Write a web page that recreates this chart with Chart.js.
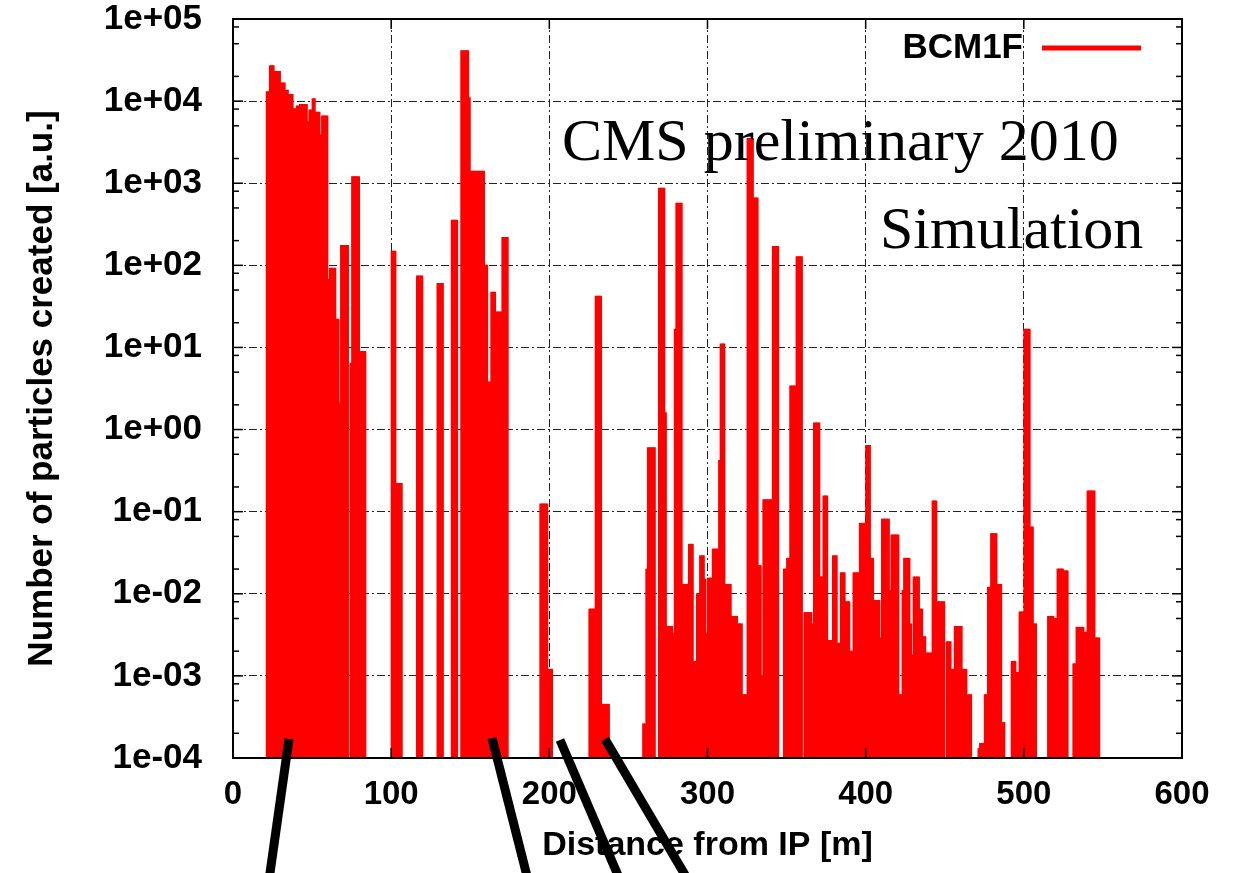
<!DOCTYPE html>
<html>
<head>
<meta charset="utf-8">
<title>BCM1F - particles created vs distance from IP</title>
<script src="https://cdn.jsdelivr.net/npm/chart.js@4.4.1/dist/chart.umd.min.js"></script>
<style>
  html, body { margin: 0; padding: 0; background: #ffffff; }
  #wrap { position: relative; width: 1244px; height: 873px; }
</style>
</head>
<body>
<div id="wrap"><canvas id="chart"></canvas></div>
<script>
// histogram: 1 m bins, the first bin starts at 20 m
const seriesLabel = "BCM1F";
const firstBin = 20;
const binWidth = 1;
const counts = [
  /* 20 */ null, 1.3e4, 1.3e4, 2.7e4, 2.7e4, 2.7e4, 2.3e4, 2.3e4, 2.3e4, 2.3e4,
  /* 30 */ 1.66e4, 1.66e4, 1.66e4, 1.36e4, 1.36e4, 1.2e4, 1.2e4, 1.2e4, 8.1e3, 8.1e3,
  /* 40 */ 8.7e3, 8.7e3, 9.1e3, 9.1e3, 9.1e3, 9.1e3, 9.1e3, 5.6e3, 7.8e3, 7.8e3,
  /* 50 */ 1.07e4, 1.07e4, 7.3e3, 7.3e3, 7.3e3, 3.9e3, 6.6e3, 6.6e3, 6.6e3, 6.6e3,
  /* 60 */ 67, 92, 92, 92, 92, 22, 22, 2.1, 174, 174,
  /* 70 */ 174, 174, 174, null, 6.4, 1200, 1200, 1200, 1200, 1200,
  /* 80 */ 8.9, 8.9, 8.9, 8.9, null, null, null, null, null, null,
  /* 90 */ null, null, null, null, null, null, null, null, null, null,
  /* 100 */ 148, 148, 148, 0.22, 0.22, 0.22, 0.22, null, null, null,
  /* 110 */ null, null, null, null, null, null, 74, 74, 74, 74,
  /* 120 */ null, null, null, null, null, null, null, null, null, 60,
  /* 130 */ 60, 60, 60, null, null, null, null, null, 355, 355,
  /* 140 */ 355, 355, null, null, 4.1e4, 4.1e4, 4.1e4, 4.1e4, 4.1e4, 1.1e4,
  /* 150 */ 1.4e3, 1.4e3, 1.4e3, 1.4e3, 1.4e3, 1.4e3, 1.4e3, 1.4e3, 1.4e3, 100,
  /* 160 */ 100, 3.8, 3.8, 47, 47, 47, 27, 27, 27, 27,
  /* 170 */ 218, 218, 218, 218, null, null, null, null, null, null,
  /* 180 */ null, null, null, null, null, null, null, null, null, null,
  /* 190 */ null, null, null, null, 0.124, 0.124, 0.124, 0.124, 0.124, 1.2e-3,
  /* 200 */ 1.2e-3, 1.2e-3, null, null, null, null, null, null, null, null,
  /* 210 */ null, null, null, null, null, null, null, null, null, null,
  /* 220 */ null, null, null, null, null, 6.5e-3, 6.5e-3, 6.5e-3, 6.5e-3, 42,
  /* 230 */ 42, 42, 42, 4.5e-4, 4.5e-4, 4.5e-4, 4.5e-4, 4.5e-4, null, null,
  /* 240 */ null, null, null, null, null, null, null, null, null, null,
  /* 250 */ null, null, null, null, null, null, null, null, null, 2.6e-4,
  /* 260 */ 2.6e-4, 0.02, 0.6, 0.6, 0.6, 0.6, 0.6, null, null, 870,
  /* 270 */ 870, 870, 870, 1.6, 4e-3, 4e-3, 4e-3, 4e-3, 3.3e-3, 16.6,
  /* 280 */ 570, 570, 570, 570, 0.013, 0.013, 0.013, 0.013, 0.04, 0.04,
  /* 290 */ 0.04, 1.5e-3, 1.5e-3, 0.01, 0.01, 0.029, 0.029, 0.029, 0.015, 3.3e-3,
  /* 300 */ 0.0155, 0.0155, 0.0155, 0.035, 0.035, 0.035, 0.035, 0.42, 11, 11,
  /* 310 */ 11, 0.013, 0.013, 0.013, 0.013, 5.3e-3, 5.3e-3, 5.3e-3, 5.3e-3, 4.3e-3,
  /* 320 */ 4.3e-3, 4.3e-3, 5.9e-4, 5.9e-4, 5.9e-4, 3.5e3, 3.5e3, 3.5e3, 3.5e3, 660,
  /* 330 */ 660, 660, 0.022, 0.022, 1e-3, 0.14, 0.14, 0.14, 0.14, 0.14,
  /* 340 */ 0.14, 170, 170, 170, 170, null, null, null, 0.02, 0.02,
  /* 350 */ 0.027, 0.027, 3.4, 3.4, 3.4, 3.4, 127, 127, 127, 127,
  /* 360 */ null, 5.9e-3, 5.9e-3, 5.9e-3, 5.9e-3, 5.9e-3, 4.3e-3, 1.2, 1.2, 1.2,
  /* 370 */ 1.2, 0.016, 0.016, 0.155, 0.155, 0.155, 2.7e-3, 2.7e-3, 2.7e-3, 0.029,
  /* 380 */ 0.029, 0.029, 2.5e-3, 2.5e-3, 0.018, 0.018, 0.018, 8e-3, 8e-3, 8e-3,
  /* 390 */ 2e-3, 2e-3, 0.018, 0.018, 0.018, 0.018, 0.072, 0.072, 0.072, 0.072,
  /* 400 */ 0.64, 0.64, 0.64, 0.027, 0.027, 8.3e-3, 8.3e-3, 8.3e-3, 8.3e-3, 2.9e-3,
  /* 410 */ 0.081, 0.081, 0.081, 0.081, 0.081, 0.011, 0.052, 0.052, 0.052, 0.052,
  /* 420 */ 0.052, 5.9e-4, 5.9e-4, 0.011, 0.027, 0.027, 0.027, 0.027, 4.3e-3, 1.8e-3,
  /* 430 */ 0.016, 0.016, 0.016, 0.016, 6.5e-3, 6.5e-3, 3e-3, 3e-3, 1.9e-3, 1.9e-3,
  /* 440 */ 1.9e-3, 1.9e-3, 0.135, 0.135, 0.135, 8e-3, 8e-3, 8e-3, 8e-3, 8e-3,
  /* 450 */ null, 2.6e-3, 2.6e-3, 2.6e-3, 1.2e-3, 1.2e-3, 4e-3, 4e-3, 4e-3, 4e-3,
  /* 460 */ 4e-3, 1.2e-3, 1.2e-3, 1.2e-3, 5.9e-4, 5.9e-4, 5.9e-4, null, null, null,
  /* 470 */ null, 1.3e-4, 1.5e-4, 1.5e-4, 1.5e-4, 5.9e-4, 5.9e-4, 0.012, 0.012, 0.054,
  /* 480 */ 0.054, 0.054, 0.054, 0.013, 0.013, 0.013, 2.7e-4, 2.7e-4, null, null,
  /* 490 */ null, null, 1.5e-3, 1.5e-3, 1.5e-3, 1.1e-3, 1.1e-3, 6e-3, 6e-3, 6e-3,
  /* 500 */ 16.6, 16.6, 16.6, 16.6, 0.065, 0.065, 4.3e-3, 4.3e-3, null, null,
  /* 510 */ null, null, null, null, null, 5.3e-3, 5.3e-3, 5.3e-3, 5.3e-3, 5e-3,
  /* 520 */ 5e-3, 0.02, 0.02, 0.02, 0.02, 0.019, 0.019, 0.019, null, null,
  /* 530 */ null, 1.4e-3, 1.4e-3, 3.9e-3, 3.9e-3, 3.9e-3, 3.9e-3, 3.9e-3, 3.4e-3, 3.4e-3,
  /* 540 */ 0.178, 0.178, 0.178, 0.178, 0.178, 2.9e-3, 2.9e-3, 2.9e-3
];

const xTickValues = [0, 100, 200, 300, 400, 500, 600];
const yTickValues = [1e-4, 1e-3, 1e-2, 1e-1, 1e0, 1e1, 1e2, 1e3, 1e4, 1e5];
const yTickLabels = ["1e-04", "1e-03", "1e-02", "1e-01", "1e+00", "1e+01", "1e+02", "1e+03", "1e+04", "1e+05"];
const yMinorSteps = [2, 5, 8];
const notes = ["CMS preliminary 2010", "Simulation"];

const sansFont = "'Liberation Sans', Arial, Helvetica, sans-serif";
const serifFont = "'Liberation Serif', 'Times New Roman', serif";
const gridColor = "#222222";
const gridDash = [8, 3, 2, 3];

// gnuplot style frame with inward ticks on all four sides
const frameTicks = {
  id: "frameTicks",
  afterDatasetsDraw(chart) {
    const { ctx, chartArea: a, scales: { x, y } } = chart;
    const line = (x1, y1, x2, y2) => {
      ctx.beginPath();
      ctx.moveTo(x1, y1);
      ctx.lineTo(x2, y2);
      ctx.stroke();
    };
    ctx.save();
    ctx.strokeStyle = "#000";
    ctx.lineWidth = 1.5;
    yTickValues.forEach(function (v) {
      const p = y.getPixelForValue(v);
      line(a.left, p, a.left + 10, p);
      line(a.right - 10, p, a.right, p);
    });
    yTickValues.slice(0, -1).forEach(function (v) {
      yMinorSteps.forEach(function (m) {
        const p = y.getPixelForValue(v * m);
        line(a.left, p, a.left + 6, p);
        line(a.right - 6, p, a.right, p);
      });
    });
    xTickValues.forEach(function (v) {
      const p = x.getPixelForValue(v);
      line(p, a.bottom, p, a.bottom - 10);
      line(p, a.top, p, a.top + 10);
    });
    ctx.lineWidth = 2;
    ctx.strokeRect(a.left, a.top, a.right - a.left, a.bottom - a.top);
    ctx.restore();
  }
};

// key, the two text notes, and the black pointer lines laid over the figure
const overlay = {
  id: "overlay",
  afterDraw(chart) {
    const { ctx, chartArea: a } = chart;
    const ds = chart.data.datasets[0];
    ctx.save();

    ctx.fillStyle = "#000";
    ctx.font = "bold 35px " + sansFont;
    ctx.textAlign = "right";
    ctx.textBaseline = "middle";
    ctx.fillText(ds.label, a.right - 159, a.top + 29);
    ctx.strokeStyle = ds.backgroundColor;
    ctx.lineWidth = 5;
    ctx.beginPath();
    ctx.moveTo(a.right - 140, a.top + 29);
    ctx.lineTo(a.right - 41, a.top + 29);
    ctx.stroke();

    ctx.font = "60px " + serifFont;
    ctx.textAlign = "left";
    ctx.textBaseline = "alphabetic";
    ctx.fillText(notes[0], a.left + 329, a.top + 141);
    ctx.fillText(notes[1], a.left + 647, a.top + 229);

    const pointerLines = [
      [289, 739, 269, 880],
      [492, 738, 528, 880],
      [560, 740, 620, 880],
      [605, 739, 688, 880]
    ];
    ctx.strokeStyle = "#000";
    ctx.lineWidth = 9;
    ctx.lineCap = "butt";
    pointerLines.forEach(function (p) {
      ctx.beginPath();
      ctx.moveTo(p[0], p[1]);
      ctx.lineTo(p[2], p[3]);
      ctx.stroke();
    });
    ctx.restore();
  }
};

const points = counts.map(function (v, i) {
  return { x: firstBin + (i + 0.5) * binWidth, y: v };
});

new Chart(document.getElementById("chart"), {
  type: "bar",
  data: {
    datasets: [{
      label: seriesLabel,
      data: points,
      backgroundColor: "#ff0000",
      borderWidth: 0,
      inflateAmount: 0.5,
      barPercentage: 1,
      categoryPercentage: 1
    }]
  },
  options: {
    responsive: true,
    maintainAspectRatio: false,
    animation: false,
    layout: { padding: { top: 19, right: 62, left: 0, bottom: 0 } },
    plugins: {
      legend: { display: false },
      tooltip: { enabled: false }
    },
    scales: {
      x: {
        type: "linear",
        min: 0,
        max: 600,
        offset: false,
        afterBuildTicks: function (axis) {
          axis.ticks = xTickValues.map(function (v) { return { value: v }; });
        },
        afterFit: function (axis) {
          axis.height = 115;
          axis.paddingLeft = 0;
          axis.paddingRight = 0;
        },
        grid: { color: gridColor, lineWidth: 1, drawTicks: false, offset: false },
        border: { display: false, dash: gridDash },
        ticks: {
          color: "#000",
          padding: 20,
          maxRotation: 0,
          autoSkip: false,
          font: { family: sansFont, size: 33, weight: "bold", lineHeight: 1 }
        },
        title: {
          display: true,
          text: "Distance from IP [m]",
          color: "#000",
          font: { family: sansFont, size: 34, weight: "bold", lineHeight: 1 },
          padding: { top: 0, bottom: 10 }
        }
      },
      y: {
        type: "logarithmic",
        min: 1e-4,
        max: 1e5,
        afterBuildTicks: function (axis) {
          axis.ticks = yTickValues.map(function (v) { return { value: v }; });
        },
        afterFit: function (axis) {
          axis.width = 233;
          axis.paddingTop = 0;
          axis.paddingBottom = 0;
        },
        grid: { color: gridColor, lineWidth: 1, drawTicks: false },
        border: { display: false, dash: gridDash },
        ticks: {
          color: "#000",
          padding: 31,
          autoSkip: false,
          callback: function (value, index) { return yTickLabels[index]; },
          font: { family: sansFont, size: 35, weight: "bold", lineHeight: 1 }
        },
        title: {
          display: true,
          text: "Number of particles created [a.u.]",
          color: "#000",
          font: { family: sansFont, size: 35, weight: "bold", lineHeight: 1 },
          padding: { top: 25, bottom: 0 }
        }
      }
    }
  },
  plugins: [frameTicks, overlay]
});
</script>
</body>
</html>
